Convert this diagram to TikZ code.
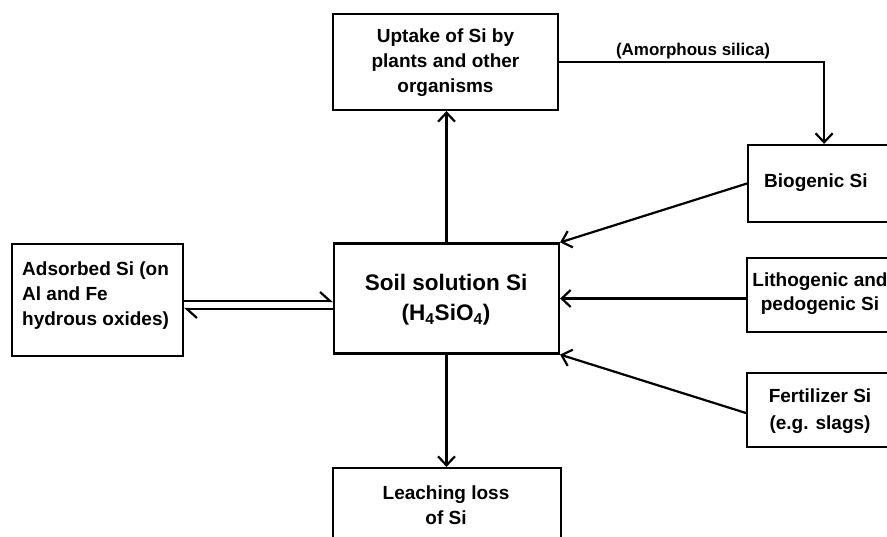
\documentclass[tikz,border=0pt]{standalone}
\usepackage{fontspec}
\setmainfont{Liberation Sans}
\usetikzlibrary{arrows.meta}
\begin{document}
\begin{tikzpicture}[x=1pt,y=-1pt,
  box/.style={draw, line width=2.2pt, inner sep=0pt},
  txt/.style={font=\fontsize{19}{25}\selectfont\bfseries, align=center, inner sep=0pt},
  flow/.style={line width=2.2pt, -{Straight Barb[length=9pt,width=17pt,line width=2.2pt]}},
  harp/.style={line width=2.2pt, -{Straight Barb[harpoon,length=10pt,width=18pt,line width=2.2pt]}}]
\useasboundingbox (0,0) rectangle (887,536);
\clip (0,0) rectangle (887,536);
% boxes
\node[box, minimum width=225pt, minimum height=96pt] (up) at (445.5,62) {};
\node[txt] (uptxt) at (445.5,63) {Uptake of Si by\\plants and other\\organisms};
\node[box, minimum width=225pt, minimum height=110pt] (soil) at (446.5,298.5) {};
\node[txt, font=\fontsize{22.5}{30}\selectfont\bfseries] (soiltxt) at (446,300) {Soil solution Si\\(H\textsubscript{4}SiO\textsubscript{4})};
\node[box, minimum width=171pt, minimum height=112pt] (ads) at (97.5,300) {};
\node[txt, align=left, anchor=west] (adstxt) at (22,296) {Adsorbed Si (on\\Al and Fe\\hydrous oxides)};
\node[box, minimum width=228pt, minimum height=92pt] (leach) at (447,514) {};
\node[txt] (leachtxt) at (446,505) {Leaching loss\\of Si};
\node[box, minimum width=180pt, minimum height=77pt, anchor=west] (bio) at (747,183.5) {};
\node[txt, anchor=west] (biotxt) at (764,183) {Biogenic Si};
\node[box, minimum width=150pt, minimum height=74pt, anchor=west] (litho) at (746,295) {};
\node[txt, font=\fontsize{19}{24}\selectfont\bfseries] (lithotxt) at (820,294) {Lithogenic and\\pedogenic Si};
\node[box, minimum width=150pt, minimum height=74pt, anchor=west] (fert) at (746,410) {};
\node[txt, font=\fontsize{19}{27}\selectfont\bfseries] (ferttxt) at (820,411) {Fertilizer Si\\(e.g. slags)};
\node[txt, font=\fontsize{17}{20}\selectfont\bfseries] (amor) at (693,51) {(Amorphous silica)};
% connectors
\coordinate (h1) at (0,301);
\coordinate (h2) at (0,309);
\draw[flow] (soil.north) -- (soil.north |- up.south);
\draw[flow] (soil.south) -- (soil.south |- leach.north);
\draw[flow] (up.east) -| ([xshift=-14pt]bio.north);
\draw[flow] (bio.west) -- (soil.north east);
\draw[flow] (litho.west |- soil.east) -- (soil.east);
\draw[flow] ([yshift=-3pt]fert.west) -- (soil.south east);
\draw[harp] (ads.east |- h1) -- (soil.west |- h1);
\draw[harp] (soil.west |- h2) -- (ads.east |- h2);
\end{tikzpicture}
\end{document}
